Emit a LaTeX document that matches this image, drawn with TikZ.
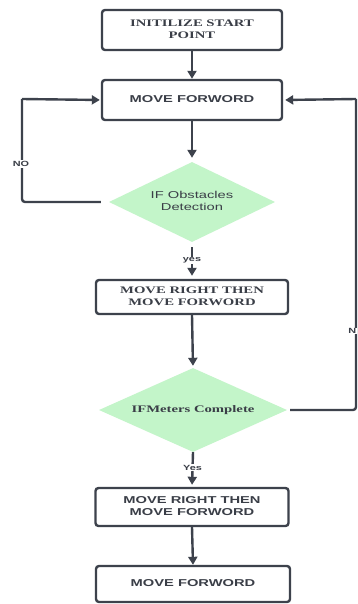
\documentclass[tikz,border=0pt]{standalone}
\usepackage{fontspec}
\setmainfont{Liberation Serif}
\setsansfont{Liberation Sans}
\usetikzlibrary{shapes.geometric,arrows.meta}
\definecolor{linec}{HTML}{3D424C}
\definecolor{txtc}{HTML}{3A3E47}
\definecolor{dgreen}{HTML}{C3F5C9}
\newcommand{\stx}[1]{\scalebox{1.47}[1]{\begin{tabular}{@{}c@{}}#1\end{tabular}}}
\tikzset{
  boxnode/.style={draw=linec, line width=2.4pt, rounded corners=3pt, fill=white, inner sep=0pt, text=txtc},
  decnode/.style={diamond, fill=dgreen, draw=none, inner sep=0pt, shape aspect=2.2, text=txtc},
  conn/.style={draw=linec, line width=2.4pt, -{Triangle[width=9pt,length=8pt]}},
  plain/.style={draw=linec, line width=2.4pt, rounded corners=3pt},
  lbl/.style={fill=white, inner sep=1pt, text=txtc, font=\sffamily\bfseries\fontsize{7.5}{9}\selectfont},
  serifbf/.style={font=\rmfamily\bfseries\fontsize{10}{12}\selectfont},
  sansbf/.style={font=\sffamily\bfseries\fontsize{10}{12}\selectfont},
  sansrg/.style={font=\sffamily\fontsize{10}{11.5}\selectfont}
}
\begin{document}
\begin{tikzpicture}[x=1pt,y=1pt]
\useasboundingbox (0,0) rectangle (357,-604);
\fill[white] (0,0) rectangle (357,-604);

\node[boxnode, serifbf, minimum width=180pt, minimum height=40pt] (b1) at (192,-30) {\stx{INITILIZE START\\POINT}};
\node[boxnode, sansbf, minimum width=180pt, minimum height=40pt] (b2) at (192,-100) {\stx{MOVE FORWORD}};
\node[decnode, sansrg, minimum width=166pt, minimum height=80pt] (d1) at (192,-202) {\stx{IF Obstacles\\Detection}};
\node[boxnode, serifbf, minimum width=192pt, minimum height=34pt] (b3) at (192,-297) {\stx{MOVE RIGHT THEN\\MOVE FORWORD}};
\node[decnode, serifbf, minimum width=188pt, minimum height=84pt] (d2) at (193,-410) {\stx{IFMeters Complete}};
\node[boxnode, sansbf, minimum width=193pt, minimum height=38pt] (b4) at (192,-507) {\stx{MOVE RIGHT THEN\\MOVE FORWORD}};
\node[boxnode, sansbf, minimum width=194pt, minimum height=36pt] (b5) at (193,-584) {\stx{MOVE FORWORD}};

\coordinate (lx) at (22,-99);
\coordinate (rx) at (356,-99);

\draw[conn] (b1.south) -- (b2.north);
\draw[conn, shorten >=4pt] (b2.south) -- (d1.north);
\draw[conn, shorten <=5pt, shorten >=3pt] (d1.south) -- node[lbl] {\scalebox{1.45}[1]{yes}} (b3.north);
\draw[conn, shorten >=2pt] (b3.south) -- (d2.north);
\draw[conn, shorten >=2pt] (d2.south) -- node[lbl, pos=0.45] {\scalebox{1.45}[1]{Yes}} (b4.north);
\draw[conn] (b4.south) -- (b5.north);

\draw[plain, shorten <=8pt] (d1.west) -| (lx);
\draw[conn, shorten >=1pt] (lx) -- (b2.west);
\node[lbl] (nol) at (21,-164) {\scalebox{1.45}[1]{NO}};

\draw[plain, shorten <=3pt] (d2.east) -| (rx);
\draw[conn, shorten >=2pt] (rx) -- (b2.east);
\node[lbl, anchor=east, inner sep=0.5pt] (nor) at (357,-331) {\scalebox{1.45}[1]{N}};
\end{tikzpicture}
\end{document}
